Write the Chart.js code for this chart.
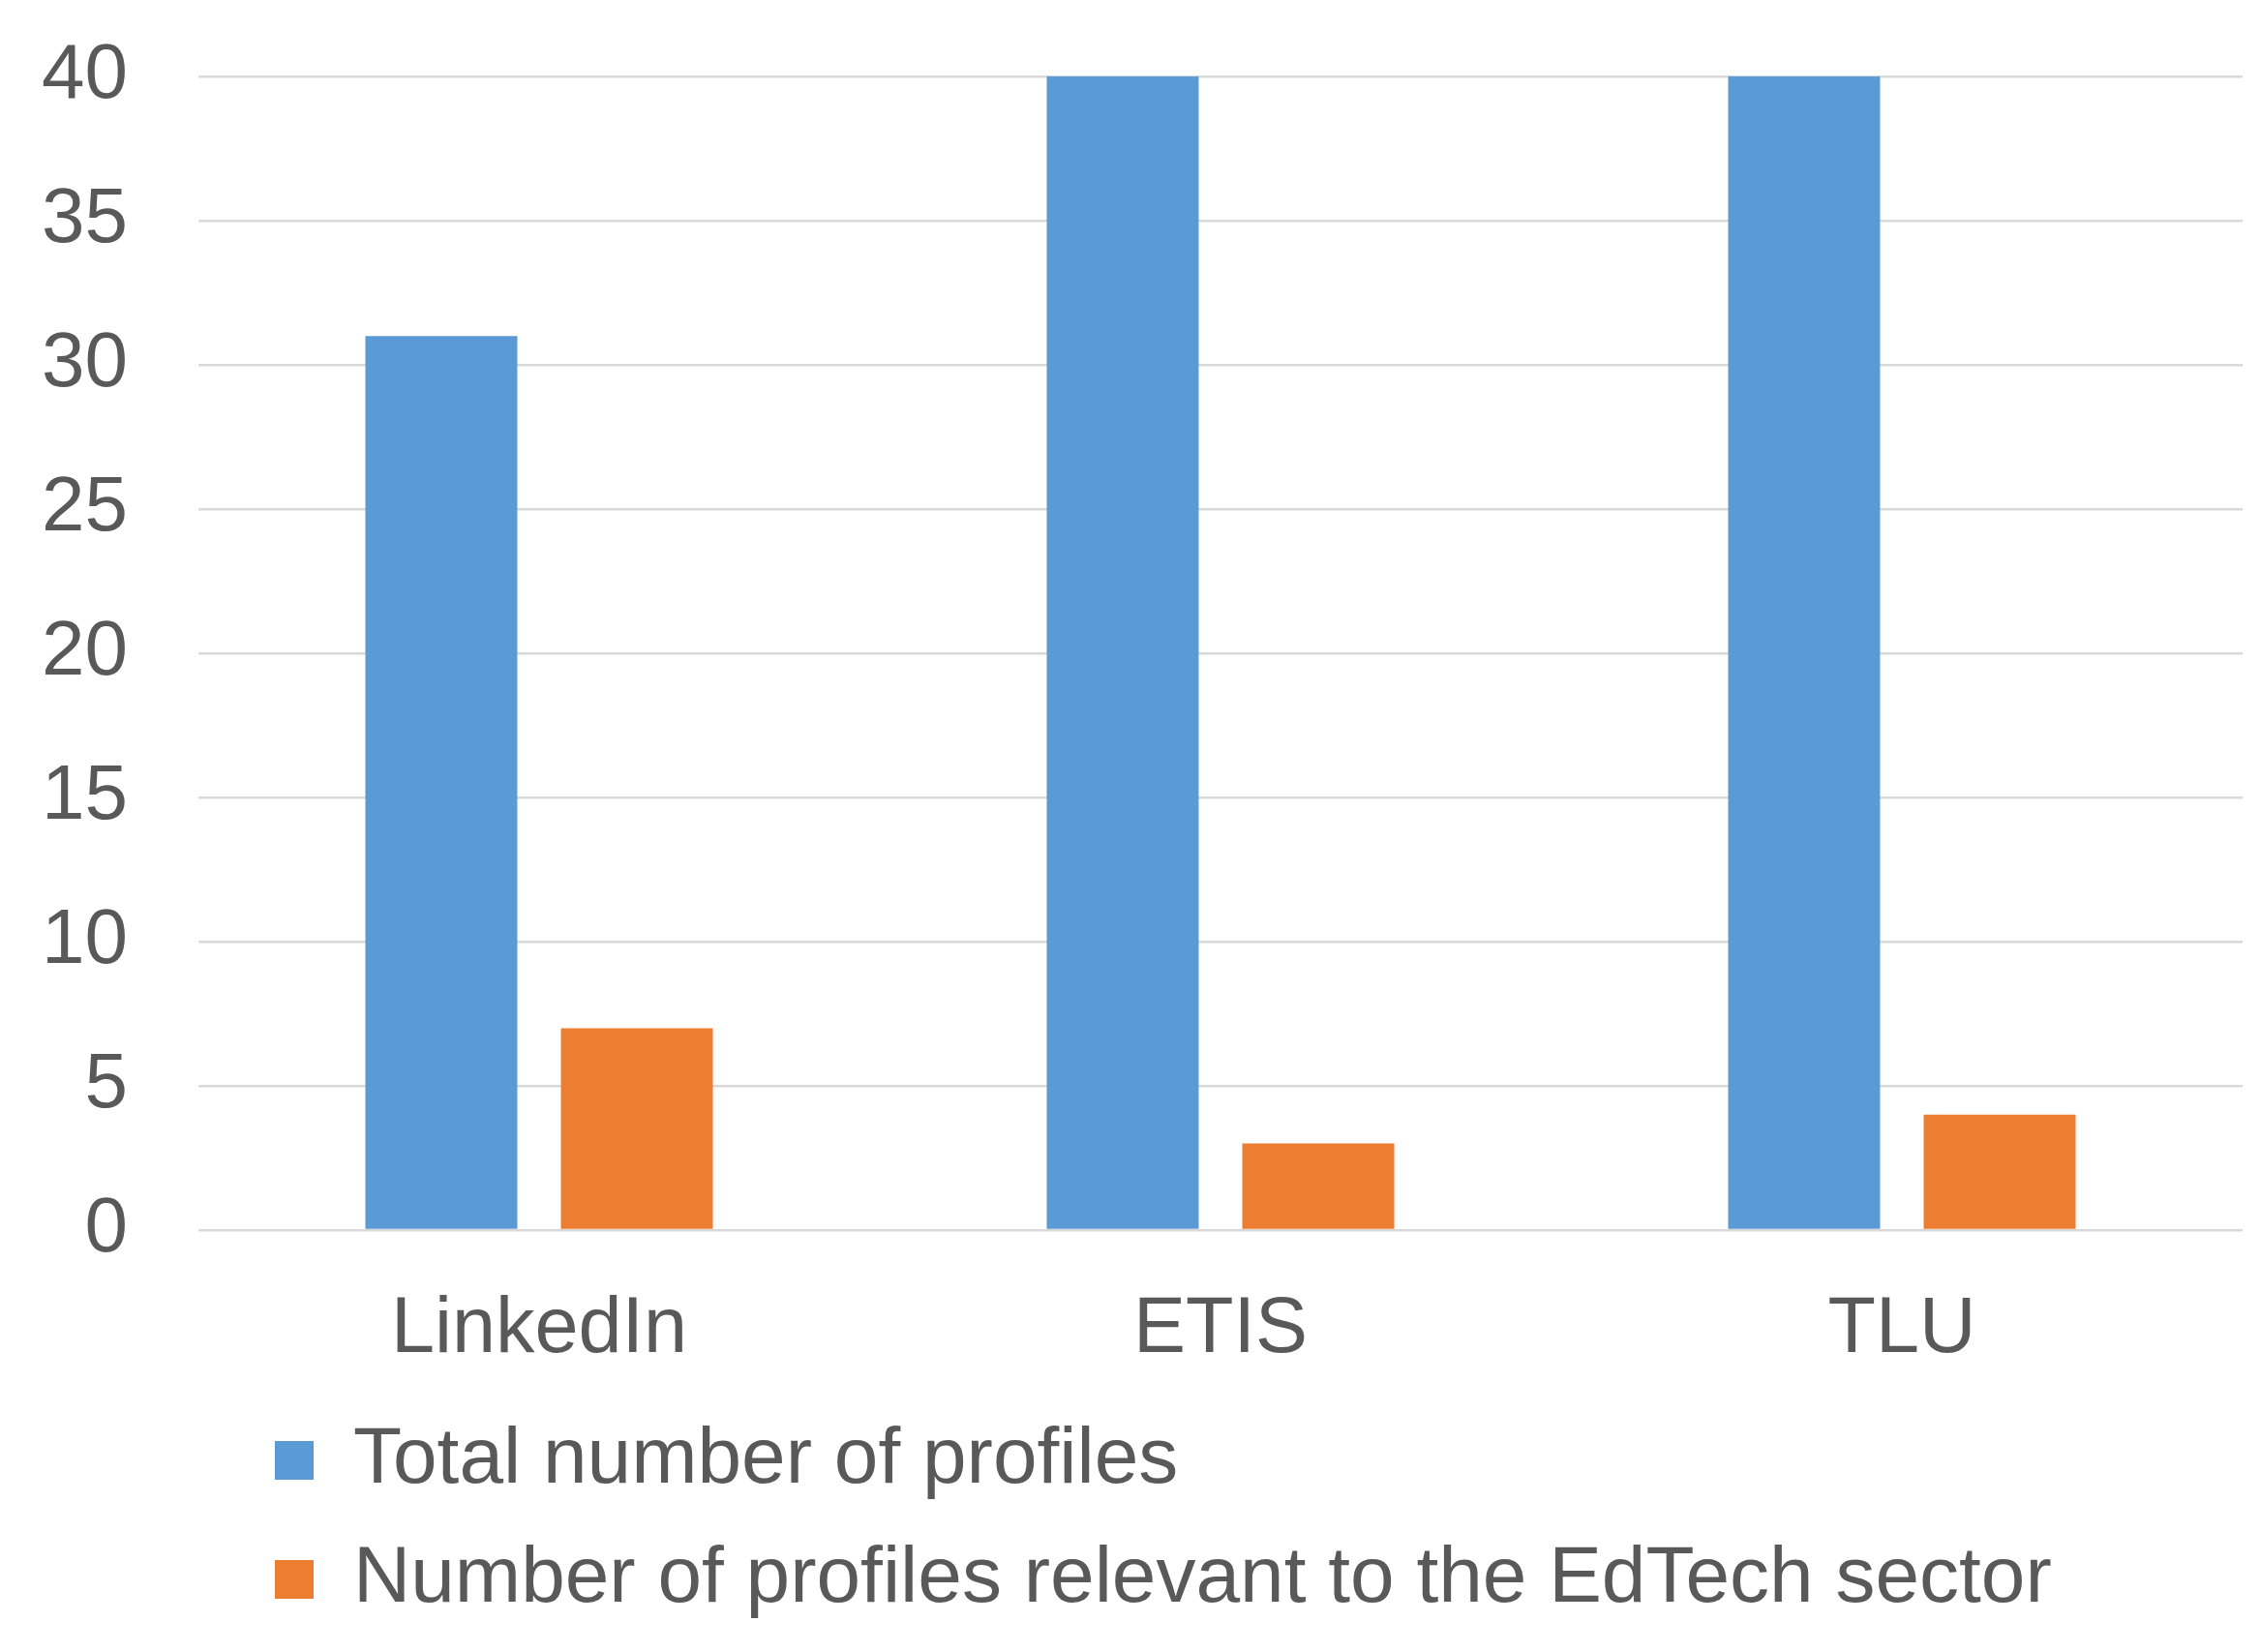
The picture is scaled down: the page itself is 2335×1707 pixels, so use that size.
<!DOCTYPE html>
<html>
<head>
<meta charset="utf-8">
<script src="https://cdn.jsdelivr.net/npm/chart.js@4/dist/chart.umd.min.js"></script>
<style>
  html, body { margin:0; padding:0; background:#fff; overflow:hidden; }
  #wrap { width:2335px; height:1707px; position:relative; }
</style>
</head>
<body>
<div id="wrap"><canvas id="chart"></canvas></div>
<script>
// ---------- DATA ----------
const categories = ["LinkedIn", "ETIS", "TLU"];
const totalProfiles = [31, 40, 40];
const edtechProfiles = [7, 3, 4];
const seriesNames = ["Total number of profiles", "Number of profiles relevant to the EdTech sector"];
const yTicks = [0, 5, 10, 15, 20, 25, 30, 35, 40];

const textColor = "#595959";
const fontFamily = "'Liberation Sans', Arial, sans-serif";

// move legend rows to where the original has them
const legendShift = {
    id: "legendShift",
    afterLayout(chart){
        const lg = chart.legend;
        if(!lg) return;
        lg.left += 38;
        lg.right += 38;
        lg.top += 6;
        lg.bottom += 6;
    }
};

// ---------- CHART ----------
function initChart(){
    const ctx = document.getElementById("chart");

    new Chart(ctx, {
        type: "bar",
        data: {
            labels: categories,
            datasets: [
                { label: seriesNames[0], data: totalProfiles, backgroundColor: "#5B9BD5" },
                { label: seriesNames[1], data: edtechProfiles, backgroundColor: "#ED7D31" }
            ]
        },
        options: {
            responsive: true,
            maintainAspectRatio: false,
            animation: false,
            devicePixelRatio: 1,
            categoryPercentage: 0.574,
            barPercentage: 0.777,
            layout: { padding: { top: 79, left: 44, right: 18, bottom: 30 } },
            scales: {
                x: {
                    grid: { display: false, drawTicks: false },
                    border: { display: false },
                    ticks: {
                        color: textColor,
                        padding: 55,
                        font: { family: fontFamily, size: 81 }
                    },
                    afterFit(axis){
                        axis.height = 150;
                        axis.paddingLeft = 0;
                        axis.paddingRight = 0;
                    }
                },
                y: {
                    min: 0,
                    max: 40,
                    afterBuildTicks(axis){
                        axis.ticks = yTicks.map(v => ({ value: v }));
                    },
                    grid: { color: "#D9D9D9", lineWidth: 2.5, drawTicks: false },
                    border: { display: false },
                    ticks: {
                        color: textColor,
                        padding: 73,
                        font: { family: fontFamily, size: 80 }
                    },
                    afterFit(axis){
                        axis.width = 161;
                        axis.paddingTop = 0;
                        axis.paddingBottom = 0;
                    }
                }
            },
            plugins: {
                tooltip: { enabled: false },
                legend: {
                    position: "bottom",
                    align: "start",
                    fullSize: false,
                    labels: {
                        color: textColor,
                        boxWidth: 40,
                        boxHeight: 40,
                        padding: 41,
                        font: { family: fontFamily, size: 82 }
                    }
                }
            }
        },
        plugins: [legendShift]
    });
}

document.addEventListener("DOMContentLoaded", initChart);
</script>
</body>
</html>
